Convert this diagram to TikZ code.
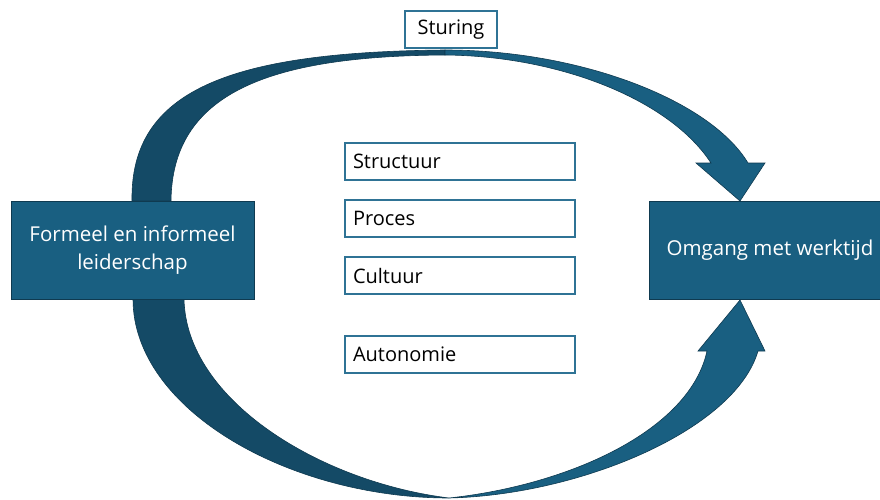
\documentclass[tikz,border=0pt]{standalone}
\usepackage{fontspec}
\setmainfont{Open Sans}
\definecolor{boxblue}{HTML}{195F81}
\definecolor{darkblue}{HTML}{144A66}
\definecolor{edgeblue}{HTML}{0F3A50}
\definecolor{lineblue}{HTML}{2F7395}
\begin{document}
\begin{tikzpicture}[x=1pt, y=-1pt, thick,
	main/.style = {draw=edgeblue, line width=1pt, fill=boxblue, text=white, align=center, minimum height=98pt, font=\fontsize{20.5}{28}\selectfont},
	factor/.style = {draw=lineblue, line width=1.4pt, fill=white, text width=214pt, inner xsep=8pt, minimum height=37pt, align=left, font=\fontsize{20}{24}\selectfont},
	flow/.style = {draw=edgeblue, line width=0.6pt}]
	\useasboundingbox (0,0) rectangle (880,500);
	
	\fill[flow, fill=darkblue] (132,201) .. controls (130,90) and (230,52) .. (445,50) -- (445,55) .. controls (265,56) and (172,95) .. (171,201) -- cycle;
	\fill[flow, fill=boxblue] (445,50) .. controls (580,50) and (710,100) .. (748,163) -- (765,163) -- (740,201) -- (696,163) -- (711,163) .. controls (670,100) and (560,56) .. (445,55) -- cycle;
	\fill[flow, fill=darkblue] (133,299) .. controls (133,410) and (290,498) .. (449,498) .. controls (320,482) and (186,400) .. (184,299) -- cycle;
	\fill[flow, fill=boxblue] (449,498) .. controls (580,495) and (735,430) .. (758,351) -- (765,351) -- (740,300) -- (698,351) -- (707,351) .. controls (690,430) and (570,485) .. (449,498) -- cycle;
	
	\node[main, minimum width=243pt] (lead) at (132.5,250) {Formeel en informeel\\leiderschap};
	\node[main, minimum width=242pt] (werk) at (770,250) {Omgang met werktijd};
	
	\node[draw=lineblue, line width=1.4pt, fill=white, minimum width=92pt, minimum height=37pt, font=\fontsize{20}{24}\selectfont] (stur) at (451,29.5) {Sturing};
	
	\node[factor] (struc) at (460,161.5) {Structuur};
	\node[factor] (proc) at (460,218.5) {Proces};
	\node[factor] (cult) at (460,275.5) {Cultuur};
	\node[factor] (auto) at (460,354.5) {Autonomie};
	
\end{tikzpicture}
\end{document}
